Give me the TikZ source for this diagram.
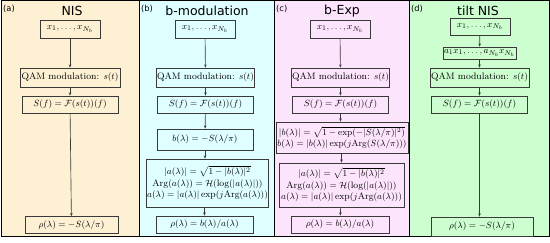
\documentclass[tikz,border=0pt]{standalone}
\usepackage{amsmath}
\usepackage{fontspec}
\newfontfamily\titlefont{DejaVu Sans}
\usetikzlibrary{arrows.meta}
\definecolor{pa}{HTML}{FEF1D3}
\definecolor{pb}{HTML}{DFFEFF}
\definecolor{pc}{HTML}{FDE4FD}
\definecolor{pd}{HTML}{CDFED0}
\definecolor{edge}{HTML}{3A3A3A}
\newcommand{\Argop}{\mathrm{Arg}}
\begin{document}
\begin{tikzpicture}[x=1pt,y=-1pt,
  panel/.style={draw=black,line width=0.8pt},
  box/.style={draw=edge,line width=0.75pt,inner sep=1pt,align=center,
    font=\fontsize{9.4}{11.5}\selectfont},
  title/.style={font=\titlefont\fontsize{12.5}{14}\selectfont,inner sep=0pt},
  tag/.style={font=\titlefont\fontsize{8.3}{9}\selectfont,inner sep=0pt,anchor=west},
  arr/.style={draw=edge,line width=0.65pt,-{Stealth[length=3.2pt,width=2.6pt]}}]
\useasboundingbox (0,0) rectangle (550,243);
\fill[white] (0,0) rectangle (550,243);
% panels
\filldraw[panel,fill=pa] (1,0.5) rectangle (139,236);
\filldraw[panel,fill=pb] (139,0.5) rectangle (274,236);
\filldraw[panel,fill=pc] (274,0.5) rectangle (409,236);
\filldraw[panel,fill=pd] (409,0.5) rectangle (549,236);
% tags and titles
\node[tag] (ta) at (3,9) {(a)};
\node[tag] (tb) at (141,9) {(b)};
\node[tag] (tc) at (276,9) {(c)};
\node[tag] (td) at (411,9) {(d)};
\node[title] (Ta) at (72,11) {NIS};
\node[title] (Tb) at (207,11) {b-modulation};
\node[title] (Tc) at (342,11) {b-Exp};
\node[title] (Td) at (478,11) {tilt NIS};
% panel a
\node[box,minimum width=60pt,minimum height=18pt] (xa) at (70,29) {$x_1,\dots,x_{N_b}$};
\node[box,minimum width=100pt,minimum height=19pt] (qa) at (70,77.5) {QAM modulation: $s(t)$};
\node[box,minimum width=96pt,minimum height=17pt] (sa) at (70,104.5) {$S(f)=\mathcal{F}(s(t))(f)$};
\node[box,minimum width=93pt,minimum height=17pt] (ra) at (71.5,225) {$\rho(\lambda)=-S(\lambda/\pi)$};
\draw[arr] (xa) -- (qa);
\draw[arr] (qa) -- (sa);
\draw[arr] (sa) -- (ra);
% panel b
\node[box,minimum width=60pt,minimum height=18pt] (xb) at (205,29) {$x_1,\dots,x_{N_b}$};
\node[box,minimum width=97pt,minimum height=19pt] (qb) at (205.5,77.5) {QAM modulation: $s(t)$};
\node[box,minimum width=96pt,minimum height=17pt] (sb) at (205.5,104.5) {$S(f)=\mathcal{F}(s(t))(f)$};
\node[box,minimum width=96pt,minimum height=21pt] (bb) at (205,139.5) {$b(\lambda)=-S(\lambda/\pi)$};
\node[box,minimum width=119pt,minimum height=48pt,inner sep=0.5pt] (ab) at (207.5,183) {$|a(\lambda)|=\sqrt{1-|b(\lambda)|^2}$\\$\Argop(a(\lambda))=\mathcal{H}(\log(|a(\lambda)|))$\\$a(\lambda)=|a(\lambda)|\exp(j\Argop(a(\lambda)))$};
\node[box,minimum width=97pt,minimum height=17pt] (rb) at (204.5,224.5) {$\rho(\lambda)=b(\lambda)/a(\lambda)$};
\draw[arr] (xb) -- (qb);
\draw[arr] (qb) -- (sb);
\draw[arr] (sb) -- (bb);
\draw[arr] (bb) -- (bb|-ab.north);
\draw[arr] (ab.south-|rb) -- (rb);
% panel c
\node[box,minimum width=60pt,minimum height=18pt] (xc) at (340,29) {$x_1,\dots,x_{N_b}$};
\node[box,minimum width=97pt,minimum height=19pt] (qc) at (340.5,77.5) {QAM modulation: $s(t)$};
\node[box,minimum width=96pt,minimum height=17pt] (sc) at (340.5,104.5) {$S(f)=\mathcal{F}(s(t))(f)$};
\node[box,minimum width=132pt,minimum height=31pt,inner sep=0.3pt,font=\fontsize{9}{11}\selectfont] (bc) at (342,137.5) {$|b(\lambda)|=\sqrt{1-\exp(-|S(\lambda/\pi)|^2)}$\\$b(\lambda)=|b(\lambda)|\exp(j\Argop(S(\lambda/\pi)))$};
\node[box,minimum width=125pt,minimum height=44pt,inner sep=0.5pt] (ac) at (341.5,185) {$|a(\lambda)|=\sqrt{1-|b(\lambda)|^2}$\\$\Argop(a(\lambda))=\mathcal{H}(\log(|a(\lambda)|))$\\$a(\lambda)=|a(\lambda)|\exp(j\Argop(a(\lambda)))$};
\node[box,minimum width=98pt,minimum height=17pt] (rc) at (340,224.5) {$\rho(\lambda)=b(\lambda)/a(\lambda)$};
\draw[arr] (xc) -- (qc);
\draw[arr] (qc) -- (sc);
\draw[arr] (sc) -- (sc|-bc.north);
\draw[arr] (bc.south-|ac) -- (ac);
\draw[arr] (ac) -- (rc);
% panel d
\node[box,minimum width=60pt,minimum height=17pt] (xd) at (480,26.5) {$x_1,\dots,x_{N_b}$};
\node[box,minimum width=73pt,minimum height=12pt,inner sep=0.5pt] (ad) at (479.5,53) {$a_1x_1,\dots,a_{N_b}x_{N_b}$};
\node[box,minimum width=99pt,minimum height=19pt] (qd) at (479.5,77.5) {QAM modulation: $s(t)$};
\node[box,minimum width=96pt,minimum height=17pt] (sd) at (479.5,104.5) {$S(f)=\mathcal{F}(s(t))(f)$};
\node[box,minimum width=102pt,minimum height=19pt] (rd) at (482,226.5) {$\rho(\lambda)=-S(\lambda/\pi)$};
\draw[arr] (xd) -- (ad);
\draw[arr] (ad) -- (qd);
\draw[arr] (qd) -- (sd);
\draw[arr] (sd) -- (sd|-rd.north);
\end{tikzpicture}
\end{document}
